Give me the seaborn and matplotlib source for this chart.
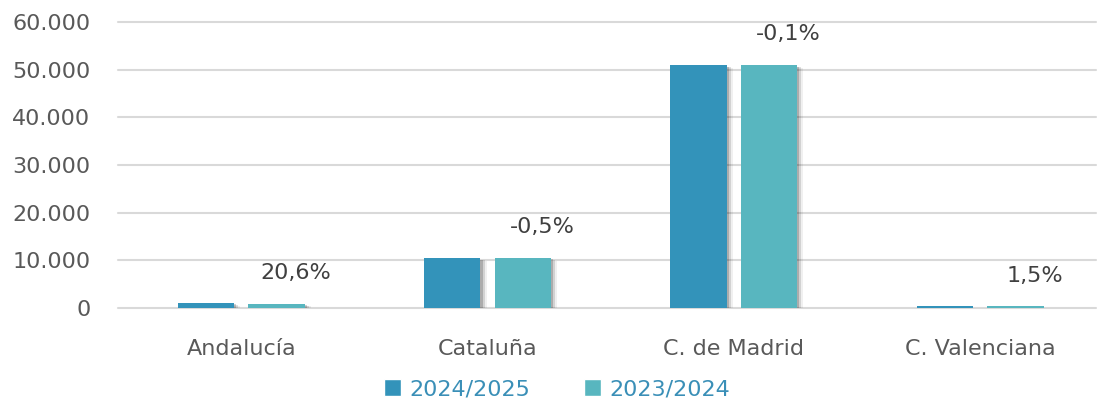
import seaborn as sns
import matplotlib.pyplot as plt
import matplotlib.patheffects as pe
import pandas as pd
from matplotlib.ticker import FuncFormatter, MultipleLocator
from matplotlib.patches import Patch

regiones = ['Andalucía', 'Cataluña', 'C. de Madrid', 'C. Valenciana']
curso_2425 = [1100, 10430, 50900, 355]
curso_2324 = [912, 10480, 50950, 350]
variacion = ['20,6%', '-0,5%', '-0,1%', '1,5%']
series = ['2024/2025', '2023/2024']
colores = ['#3393ba', '#58b6bf']

df = pd.DataFrame({
    'region': regiones * 2,
    'valor': curso_2425 + curso_2324,
    'curso': [series[0]] * 4 + [series[1]] * 4,
})

sns.set_style('white')
plt.rcParams['font.family'] = ['DejaVu Sans']

fig = plt.figure(figsize=(10.97, 4.05), dpi=100)
ax = fig.add_axes([0.1076, 0.2395, 0.8914, 0.7062])

sns.barplot(data=df, x='region', y='valor', hue='curso', hue_order=series,
            palette=colores, saturation=1, width=0.572, gap=0.2, ax=ax,
            legend=False, linewidth=0, zorder=3)

# sombra difusa a la derecha
for bar in ax.patches:
    bar.set_path_effects([
        pe.SimplePatchShadow(offset=(4.5, -2), shadow_rgbFace='#000000', alpha=0.06),
        pe.SimplePatchShadow(offset=(3, -1.5), shadow_rgbFace='#000000', alpha=0.12),
        pe.SimplePatchShadow(offset=(1.5, -1), shadow_rgbFace='#000000', alpha=0.18),
        pe.Normal()])

# etiquetas de variación sobre la barra 2023/2024
bars2 = ax.patches[4:8]
for b, txt in zip(bars2, variacion):
    ax.annotate(txt, (b.get_x() + b.get_width() / 2, b.get_height()),
                xytext=(14, 15), textcoords='offset points', ha='center', va='bottom',
                fontsize=16, color='#404040')

ax.set_ylim(0, 60000)
ax.set_xlim(-0.5, 3.47)
ax.yaxis.set_major_locator(MultipleLocator(10000))
ax.yaxis.set_major_formatter(FuncFormatter(lambda v, p: f'{int(v):,}'.replace(',', '.')))
ax.grid(axis='y', color='#d9d9d9', linewidth=1.5, zorder=0)
for gl in ax.get_ygridlines():
    gl.set_clip_on(False)
ax.set_axisbelow(True)
for s in ax.spines.values():
    s.set_visible(False)
ax.tick_params(axis='y', length=0, pad=20, labelsize=16, labelcolor='#595959')
ax.tick_params(axis='x', length=0, pad=22, labelsize=16, labelcolor='#595959')
ax.set_xlabel('')
ax.set_ylabel('')

handles = [Patch(facecolor=c, label=s) for c, s in zip(colores, series)]
leg = fig.legend(handles=handles, loc='lower center', bbox_to_anchor=(0.508, -0.035),
                 ncol=2, frameon=False, fontsize=16, handlelength=0.75, handleheight=0.75,
                 handletextpad=0.4, columnspacing=2.4)
for t in leg.get_texts():
    t.set_color('#3a8fb7')

fig.savefig('out.png', dpi=100)
